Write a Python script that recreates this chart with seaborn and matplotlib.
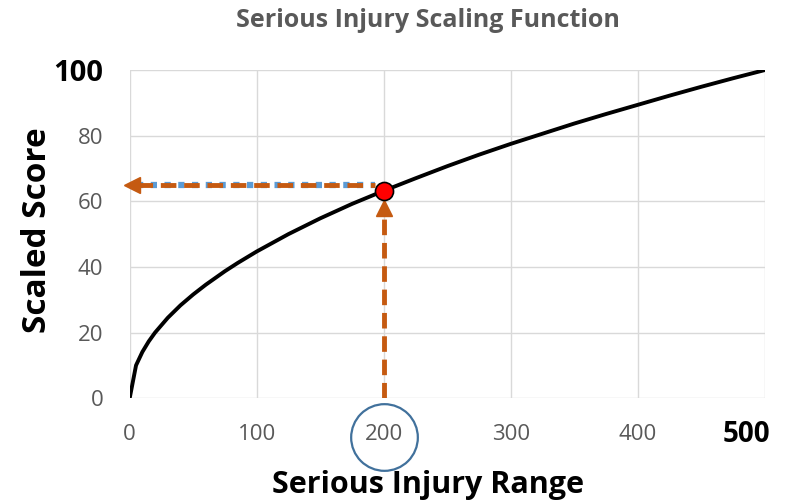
import matplotlib
matplotlib.use("Agg")
import matplotlib.pyplot as plt
import seaborn as sns
import pandas as pd

# values
injury = [0, 5, 10, 15, 20, 30, 40, 50, 60, 75, 85, 100, 125, 150, 175, 200,
          225, 250, 275, 300, 325, 350, 375, 400, 425, 450, 475, 500]
score = [0, 10, 14.1, 17.3, 20, 24.5, 28.3, 31.6, 34.6, 38.7, 41.2, 44.7, 50, 54.8, 59.2, 63.2,
         67, 70.7, 74.2, 77.5, 80.6, 83.7, 86.6, 89.4, 92.2, 94.9, 97.5, 100]
x_ticks = [0, 100, 200, 300, 400, 500]
y_ticks = [0, 20, 40, 60, 80, 100]
pick_x = 200
pick_y = 63.2
arrow_y = 65

df = pd.DataFrame({"injury": injury, "score": score})

sns.set_style("whitegrid")
plt.rcParams["font.family"] = ["Open Sans", "DejaVu Sans"]

orange = "#C55A11"
blue = "#5B9BD5"
grey = "#595959"

fig = plt.figure(figsize=(7.86, 5.04), dpi=100)
ax = fig.add_axes([0.165, 0.21, 0.808, 0.651])

sns.lineplot(data=df, x="injury", y="score", color="black", linewidth=2.8, ax=ax, zorder=3)

# vertical arrow from the x axis up to the point
ax.plot([pick_x, pick_x], [0, 57], color=orange, lw=3.5, dashes=(3.2, 1.6), zorder=4)
ax.plot([pick_x], [58], marker="^", ms=11, color=orange, clip_on=False, zorder=4)

# horizontal arrow from the point to the y axis
ax.plot([6, pick_x - 7], [arrow_y, arrow_y], color=blue, lw=4.5, dashes=(1, 1.2), zorder=4)
ax.plot([6, pick_x - 7], [arrow_y, arrow_y], color=orange, lw=3.5, dashes=(3.2, 1.6), zorder=5)
ax.plot([1.5], [arrow_y], marker="<", ms=11, color=orange, clip_on=False, zorder=5)

ax.plot([pick_x], [pick_y], marker="o", ms=13, mfc="red", mec="black", mew=1.2, zorder=6)

ax.set_xlim(0, 500)
ax.set_ylim(0, 100)
ax.set_xticks(x_ticks)
ax.set_yticks(y_ticks)
# last x label is drawn separately, shifted left like the reference
ax.set_xticklabels([str(v) for v in x_ticks[:-1]] + [""])
ax.set_yticklabels([str(v) for v in y_ticks])
ax.tick_params(axis="both", labelsize=16, labelcolor=grey, length=0)
ax.tick_params(axis="x", pad=26)
ax.tick_params(axis="y", pad=19)
for lab in ax.get_xticklabels():
    lab.set_va("center")
top_y = ax.get_yticklabels()[-1]
top_y.set_fontsize(21)
top_y.set_fontweight("bold")
top_y.set_color("black")
ax.annotate(str(x_ticks[-1]), xy=(x_ticks[-1], 0), xycoords="data",
            xytext=(-13, -26), textcoords="offset points", ha="center", va="center",
            fontsize=20, fontweight="bold", color="black", annotation_clip=False)

ax.grid(True, color="#D9D9D9", linewidth=1)
for s in ax.spines.values():
    s.set_visible(False)

# circle round the 200 tick label
ax.plot([pick_x], [-11.9], marker="o", ms=48, mfc="none", mec="#41719C", mew=1.6, clip_on=False)

ax.set_xlabel("Serious Injury Range", fontsize=22, fontweight="bold", color="black")
ax.set_ylabel("Scaled Score", fontsize=24, fontweight="bold", color="black")
ax.xaxis.set_label_coords(0.469, -0.265)
ax.xaxis.label.set_va("center")
ax.yaxis.set_label_coords(-0.145, 0.512)
ax.yaxis.label.set_va("center")
fig.text(0.545, 0.96, "Serious Injury Scaling Function", ha="center", va="center",
         fontsize=18, fontweight="bold", color=grey)

fig.savefig("out.png", dpi=100)
